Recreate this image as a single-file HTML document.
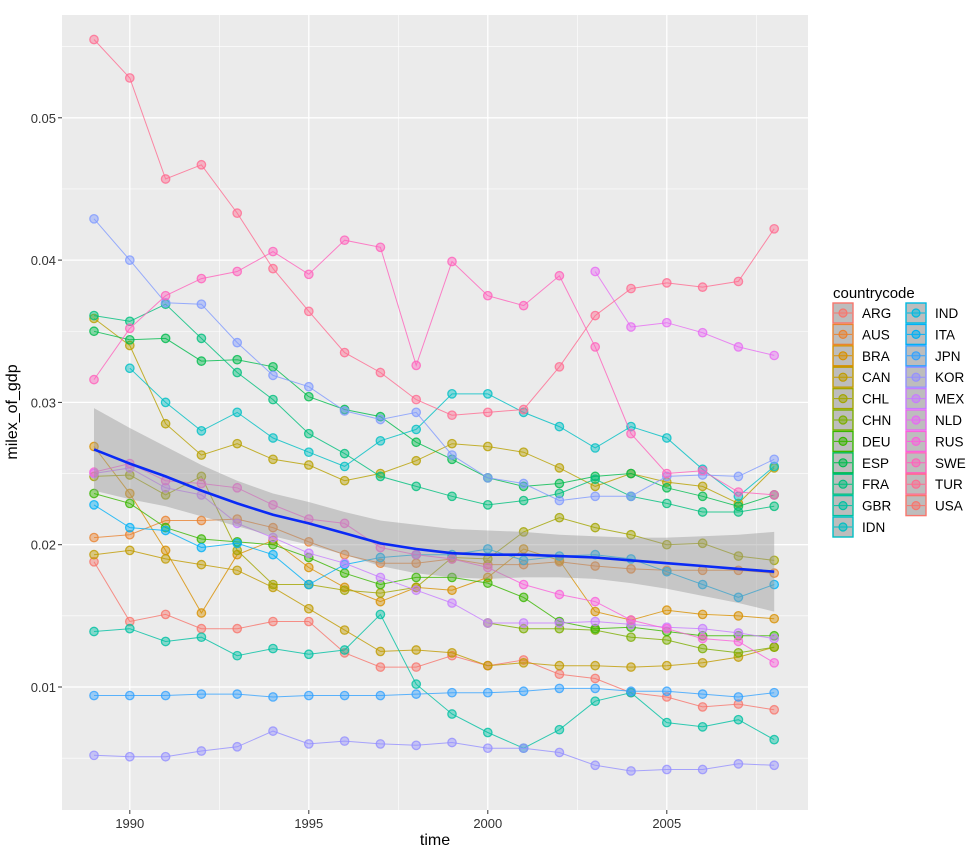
<!DOCTYPE html>
<html><head><meta charset="utf-8"><style>
body{margin:0;background:#fff;}
svg text{font-family:"Liberation Sans",Arial,sans-serif;}
</style></head><body>
<svg id="chart" width="972" height="850" xmlns="http://www.w3.org/2000/svg"></svg>
<script>
const years=[1989,1990,1991,1992,1993,1994,1995,1996,1997,1998,1999,2000,2001,2002,2003,2004,2005,2006,2007,2008];
const xTicks=[1990,1995,2000,2005];
const yTicks=[0.01,0.02,0.03,0.04,0.05];
const yTickLabels=["0.01","0.02","0.03","0.04","0.05"];
const countries=["ARG","AUS","BRA","CAN","CHL","CHN","DEU","ESP","FRA","GBR","IDN","IND","ITA","JPN","KOR","MEX","NLD","RUS","SWE","TUR","USA"];
const legendColors=["#F8766D","#EA8331","#D89000","#C09B00","#A3A500","#7CAE00","#39B600","#00BB4E","#00BF7D","#00C1A3","#00BFC4","#00BAE0","#00B0F6","#35A2FF","#9590FF","#C77CFF","#E76BF3","#FA62DB","#FF62BC","#FF6C91","#F8766D"];
const seriesColors=["#F8766D","#EA8331","#D89000","#C09B00","#B8A000","#A3A500","#7CAE00","#39B600","#00BB4E","#00BF7D","#00C1A3","#00BFC4","#00B0F6","#35A2FF","#7F9AFF","#9590FF","#C77CFF","#E76BF3","#FA62DB","#FF62BC","#FF6C91"];
const N=null;
const sARG=[0.0188,0.0146,0.0151,0.0141,0.0141,0.0146,0.0146,0.0124,0.0114,0.0114,0.0122,0.0115,0.0119,0.0109,0.0106,0.0096,0.0093,0.0086,0.0088,0.0084];
const sAUS=[0.0205,0.0207,0.0217,0.0217,0.0218,0.0212,0.0202,0.0193,0.0187,0.0187,0.0190,0.0186,0.0186,0.0188,0.0185,0.0183,0.0182,0.0182,0.0182,0.0180];
const sBRA=[0.0269,0.0236,0.0196,0.0152,0.0193,0.0203,0.0184,0.0170,0.0160,0.0170,0.0168,0.0177,0.0197,0.0189,0.0153,0.0147,0.0154,0.0151,0.0150,0.0148];
const sCAN=[0.0193,0.0196,0.0190,0.0186,0.0182,0.0170,0.0155,0.0140,0.0125,0.0126,0.0124,0.0115,0.0117,0.0115,0.0115,0.0114,0.0115,0.0117,0.0121,0.0128];
const sCHL=[0.0359,0.0340,0.0285,0.0263,0.0271,0.0260,0.0256,0.0245,0.0250,0.0259,0.0271,0.0269,0.0265,0.0254,0.0241,0.0250,0.0244,0.0241,0.0229,0.0254];
const sCHN=[0.0248,0.0249,0.0235,0.0248,0.0196,0.0172,0.0172,0.0168,0.0166,0.0170,0.0191,0.0190,0.0209,0.0219,0.0212,0.0207,0.0200,0.0201,0.0192,0.0189];
const sDEU=[N,N,N,N,N,N,N,N,N,N,N,0.0145,0.0141,0.0141,0.0140,0.0135,0.0133,0.0127,0.0124,0.0128];
const sESP=[0.0236,0.0229,0.0212,0.0204,0.0202,0.0200,0.0191,0.0180,0.0172,0.0177,0.0177,0.0173,0.0163,0.0146,0.0141,0.0142,0.0139,0.0136,0.0136,0.0136];
const sFRA=[0.0350,0.0344,0.0345,0.0329,0.0330,0.0325,0.0304,0.0295,0.0290,0.0272,0.0260,0.0247,0.0241,0.0243,0.0248,0.0250,0.0240,0.0234,0.0227,0.0235];
const sGBR=[0.0361,0.0357,0.0369,0.0345,0.0321,0.0302,0.0278,0.0264,0.0248,0.0241,0.0234,0.0228,0.0231,0.0236,0.0246,0.0234,0.0229,0.0223,0.0223,0.0227];
const sIDN=[0.0139,0.0141,0.0132,0.0135,0.0122,0.0127,0.0123,0.0126,0.0151,0.0102,0.0081,0.0068,0.0057,0.0070,0.0090,0.0096,0.0075,0.0072,0.0077,0.0063];
const sIND=[N,0.0324,0.0300,0.0280,0.0293,0.0275,0.0265,0.0255,0.0273,0.0281,0.0306,0.0306,0.0293,0.0283,0.0268,0.0283,0.0275,0.0253,0.0234,0.0255];
const sITA=[0.0228,0.0212,0.0210,0.0198,0.0201,0.0193,0.0172,0.0186,0.0191,0.0193,0.0193,0.0197,0.0189,0.0192,0.0193,0.0190,0.0181,0.0172,0.0163,0.0172];
const sJPN=[0.0094,0.0094,0.0094,0.0095,0.0095,0.0093,0.0094,0.0094,0.0094,0.0095,0.0096,0.0096,0.0097,0.0099,0.0099,0.0097,0.0097,0.0095,0.0093,0.0096];
const sKOR=[0.0429,0.0400,0.0370,0.0369,0.0342,0.0319,0.0311,0.0294,0.0288,0.0293,0.0263,0.0247,0.0243,0.0231,0.0234,0.0234,0.0248,0.0249,0.0248,0.0260];
const sMEX=[0.0052,0.0051,0.0051,0.0055,0.0058,0.0069,0.0060,0.0062,0.0060,0.0059,0.0061,0.0057,0.0057,0.0054,0.0045,0.0041,0.0042,0.0042,0.0046,0.0045];
const sNLD=[0.0250,0.0254,0.0240,0.0235,0.0215,0.0205,0.0194,0.0187,0.0177,0.0168,0.0159,0.0145,0.0145,0.0145,0.0146,0.0144,0.0142,0.0141,0.0138,0.0134];
const sRUS=[N,N,N,N,N,N,N,N,N,N,N,N,N,N,0.0392,0.0353,0.0356,0.0349,0.0339,0.0333];
const sSWE=[0.0251,0.0257,0.0245,0.0243,0.0240,0.0228,0.0218,0.0215,0.0198,0.0193,0.0190,0.0184,0.0172,0.0165,0.0160,0.0147,0.0141,0.0134,0.0132,0.0117];
const sTUR=[0.0316,0.0352,0.0375,0.0387,0.0392,0.0406,0.0390,0.0414,0.0409,0.0326,0.0399,0.0375,0.0368,0.0389,0.0339,0.0278,0.0250,0.0252,0.0237,0.0235];
const sUSA=[0.0555,0.0528,0.0457,0.0467,0.0433,0.0394,0.0364,0.0335,0.0321,0.0302,0.0291,0.0293,0.0295,0.0325,0.0361,0.0380,0.0384,0.0381,0.0385,0.0422];
const smoothFit=[0.0267,0.0257,0.0248,0.0238,0.0229,0.0221,0.0215,0.0208,0.0201,0.0197,0.0194,0.0193,0.0193,0.0192,0.0191,0.0189,0.0187,0.0185,0.0183,0.0181];
const smoothSE=[0.0029,0.0025,0.0021,0.0018,0.0016,0.0015,0.0015,0.0015,0.0016,0.0017,0.0017,0.0017,0.0016,0.0015,0.0015,0.0016,0.0018,0.0021,0.0024,0.0028];
const allSeries=[sARG,sAUS,sBRA,sCAN,sCHL,sCHN,sDEU,sESP,sFRA,sGBR,sIDN,sIND,sITA,sJPN,sKOR,sMEX,sNLD,sRUS,sSWE,sTUR,sUSA];

const NS="http://www.w3.org/2000/svg";
const svg=document.getElementById('chart');
const PL=62,PR=808,PT=15,PB=810;
function xs(yr){return 94+(yr-1989)*35.8;}
function ys(v){return 687-(v-0.01)*14230;}
function mk(tag,attrs,parent){const e=document.createElementNS(NS,tag);for(const k in attrs)e.setAttribute(k,attrs[k]);(parent||svg).appendChild(e);return e;}

const panel=mk('rect',{x:PL,y:PT,width:PR-PL,height:PB-PT,fill:'#EBEBEB'});


const grid=mk('g',{});


for(let v=0.005;v<=0.056;v+=0.01){const y=ys(v);if(y>PT&&y<PB)mk('line',{x1:PL,x2:PR,y1:y,y2:y,stroke:'#fff','stroke-width':0.6},grid);}
for(let yr=1987.5;yr<=2008.9;yr+=5){const x=xs(yr);if(x>PL&&x<PR)mk('line',{x1:x,x2:x,y1:PT,y2:PB,stroke:'#fff','stroke-width':0.6},grid);}
yTicks.forEach((v,i)=>{const y=ys(v);mk('line',{x1:PL,x2:PR,y1:y,y2:y,stroke:'#fff','stroke-width':1.3},grid);
 mk('line',{x1:PL-4,x2:PL,y1:y,y2:y,stroke:'#333','stroke-width':1});
 const t=mk('text',{x:PL-6,y:y+5,'text-anchor':'end','font-size':13,fill:'#333'});t.textContent=yTickLabels[i];
 
 });
xTicks.forEach(yr=>{const x=xs(yr);mk('line',{x1:x,x2:x,y1:PT,y2:PB,stroke:'#fff','stroke-width':1.3},grid);
 mk('line',{x1:x,x2:x,y1:PB,y2:PB+4,stroke:'#333','stroke-width':1});
 const t=mk('text',{x:x,y:PB+18,'text-anchor':'middle','font-size':13,fill:'#333'});t.textContent=String(yr);
 
 });

allSeries.forEach((s,i)=>{
 const g=mk('g',{});
 
 
 const c=seriesColors[i];let d='';let pen=false;
 s.forEach((v,j)=>{if(v===null){pen=false;return;}d+=(pen?'L':'M')+xs(years[j]).toFixed(1)+','+ys(v).toFixed(1);pen=true;});
 mk('path',{d:d,fill:'none',stroke:c,'stroke-width':1,'stroke-opacity':0.8},g);
 s.forEach((v,j)=>{if(v===null)return;
  const p=mk('circle',{cx:xs(years[j]),cy:ys(v),r:4.2,fill:c,'fill-opacity':0.45,stroke:c,'stroke-opacity':0.8,'stroke-width':1.3},g);
  
  });
});

let band='';
years.forEach((yr,j)=>{band+=(j?'L':'M')+xs(yr).toFixed(1)+','+ys(smoothFit[j]+smoothSE[j]).toFixed(1);});
for(let j=years.length-1;j>=0;j--)band+='L'+xs(years[j]).toFixed(1)+','+ys(smoothFit[j]-smoothSE[j]).toFixed(1);
const bandEl=mk('path',{d:band+'Z',fill:'#999','fill-opacity':0.45});


let sl='';years.forEach((yr,j)=>{sl+=(j?'L':'M')+xs(yr).toFixed(1)+','+ys(smoothFit[j]).toFixed(1);});
const slEl=mk('path',{d:sl,fill:'none',stroke:'#0A2AF5','stroke-width':2.6});



const xt=mk('text',{x:435,y:845,'text-anchor':'middle','font-size':16,fill:'#000'});xt.textContent='time';


const yt=mk('text',{x:0,y:0,'text-anchor':'middle','font-size':16,fill:'#000',transform:'translate(17,412) rotate(-90)'});yt.textContent='milex_of_gdp';



const lt=mk('text',{x:833,y:298,'font-size':15,fill:'#000'});lt.textContent='countrycode';


countries.forEach((cc,i)=>{
 const col=i<11?0:1,row=i<11?i:i-11;
 const kx=col?906:833,ky=303+row*21.4;const c=legendColors[i];
 const g=mk('g',{});
 
 
 mk('rect',{x:kx,y:ky,width:20,height:20,fill:'#BDBDBD',stroke:c,'stroke-width':1.4},g);
 mk('line',{x1:kx+1,x2:kx+19,y1:ky+10,y2:ky+10,stroke:c,'stroke-width':1},g);
 mk('circle',{cx:kx+10,cy:ky+10,r:4,fill:c,'fill-opacity':0.5,stroke:c,'stroke-width':1.2},g);
 const t=mk('text',{x:kx+29,y:ky+15,'font-size':13.5,fill:'#000'},g);t.textContent=cc;
});
</script>
</body></html>
